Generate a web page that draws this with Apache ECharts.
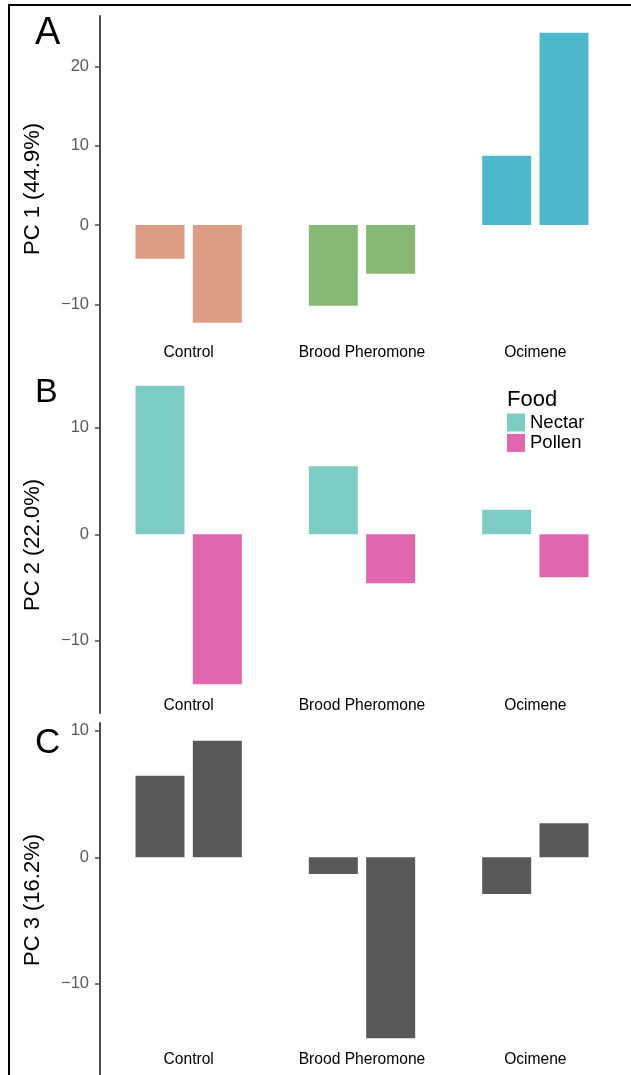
<!DOCTYPE html>
<html><head><meta charset="utf-8">
<script src="https://cdn.jsdelivr.net/npm/echarts@6/dist/echarts.min.js"></script>
<style>html,body{margin:0;padding:0;background:#fff}#c{width:631px;height:1075px}</style>
</head><body><div id="c"></div>
<script>
// ---- data ----
const categories = ['Control', 'Brood Pheromone', 'Ocimene'];
const foods = ['Nectar', 'Pollen'];
const pc1Nectar = [-4.25, -10.18, 8.74];
const pc1Pollen = [-12.32, -6.14, 24.25];
const pc2Nectar = [13.95, 6.38, 2.31];
const pc2Pollen = [-14.08, -4.6, -4.04];
const pc3Nectar = [6.45, -1.32, -2.9];
const pc3Pollen = [9.22, -14.31, 2.69];
const pc1Ticks = [-10, 0, 10, 20];
const pc2Ticks = [-10, 0, 10];
const pc3Ticks = [-10, 0, 10];
const axisTitles = ['PC 1 (44.9%)', 'PC 2 (22.0%)', 'PC 3 (16.2%)'];
const panelLetters = ['A', 'B', 'C'];
const legendTitle = 'Food';

// ---- styles ----
const treatColors = ['#DC9D86', '#86B875', '#4DB8CC'];
const foodColors = ['#7ECDC4', '#E066AE'];
const pc3Color = '#595959';
const FONT = '"Liberation Sans", Arial, Helvetica, sans-serif';

const panels = [
  {top: 16, height: 354, min: -18.28, max: 26.36, ticks: pc1Ticks, labOff: -17.3, titleY: 189, letterY: 33.5, letterSize: 38},
  {top: 370, height: 343, min: -16.78, max: 15.43, ticks: pc2Ticks, labOff: -7.3, titleY: 545, letterY: 392.5, letterSize: 34},
  {top: 723, height: 352, min: -17.21, max: 10.62, ticks: pc3Ticks, labOff: -15, titleY: 900, letterY: 743, letterSize: 35}
];

const grids = [], xAxes = [], yAxes = [], graphics = [];
panels.forEach((p, i) => {
  grids.push({left: 102, width: 520, top: p.top, height: p.height});
  xAxes.push({
    type: 'category', gridIndex: i, data: categories, offset: p.labOff,
    axisLine: {show: false}, axisTick: {show: false},
    axisLabel: {margin: 0, verticalAlign: 'middle', fontSize: 15.6, color: '#000', fontFamily: FONT, interval: 0}
  });
  yAxes.push({
    type: 'value', gridIndex: i, min: p.min, max: p.max, offset: 2,
    splitLine: {show: false},
    axisLine: {show: true, lineStyle: {color: '#4d4d4d', width: 2}},
    axisTick: {show: true, length: 5, lineStyle: {color: '#4d4d4d', width: 1.5}, customValues: p.ticks},
    axisLabel: {margin: 11, fontSize: 16.5, color: '#5a5a5a', fontFamily: FONT, customValues: p.ticks,
      formatter: v => String(v).replace('-', '\u2212')}
  });
  graphics.push({
    type: 'text', x: 33, y: p.titleY, rotation: Math.PI / 2,
    style: {text: axisTitles[i], fontSize: 22, fill: '#000', fontFamily: FONT, align: 'center', verticalAlign: 'middle'}
  });
  graphics.push({
    type: 'text', x: 35, y: p.letterY,
    style: {text: panelLetters[i], fontSize: p.letterSize, fill: '#000', fontFamily: FONT, align: 'left', verticalAlign: 'middle'}
  });
});

graphics.push({
  type: 'text', x: 507, y: 400,
  style: {text: legendTitle, fontSize: 22, fill: '#000', fontFamily: FONT, align: 'left', verticalAlign: 'middle'}
});
graphics.push({
  type: 'polyline', shape: {points: [[9, 1080], [9, 5], [640, 5]]},
  style: {stroke: '#000', lineWidth: 2, fill: null}
});

const barBase = {type: 'bar', barWidth: 49, barGap: '17%'};
const series = [
  Object.assign({}, barBase, {name: 'PC1 Nectar', xAxisIndex: 0, yAxisIndex: 0, data: pc1Nectar,
    itemStyle: {color: p => treatColors[p.dataIndex]}}),
  Object.assign({}, barBase, {name: 'PC1 Pollen', xAxisIndex: 0, yAxisIndex: 0, data: pc1Pollen,
    itemStyle: {color: p => treatColors[p.dataIndex]}}),
  Object.assign({}, barBase, {name: foods[0], xAxisIndex: 1, yAxisIndex: 1, data: pc2Nectar,
    itemStyle: {color: foodColors[0]}}),
  Object.assign({}, barBase, {name: foods[1], xAxisIndex: 1, yAxisIndex: 1, data: pc2Pollen,
    itemStyle: {color: foodColors[1]}}),
  Object.assign({}, barBase, {name: 'PC3 Nectar', xAxisIndex: 2, yAxisIndex: 2, data: pc3Nectar,
    itemStyle: {color: pc3Color}}),
  Object.assign({}, barBase, {name: 'PC3 Pollen', xAxisIndex: 2, yAxisIndex: 2, data: pc3Pollen,
    itemStyle: {color: pc3Color}})
];

const chart = echarts.init(document.getElementById('c'), null, {renderer: 'canvas'});
chart.setOption({
  animation: false,
  backgroundColor: '#fff',
  grid: grids, xAxis: xAxes, yAxis: yAxes, series: series,
  legend: {
    data: foods, orient: 'vertical', left: 507, top: 413, padding: 0,
    icon: 'rect', itemWidth: 18, itemHeight: 18, itemGap: 1.4,
    textStyle: {fontSize: 18.5, color: '#000', fontFamily: FONT, lineHeight: 18},
    selectedMode: false
  },
  graphic: graphics
});
</script></body></html>
